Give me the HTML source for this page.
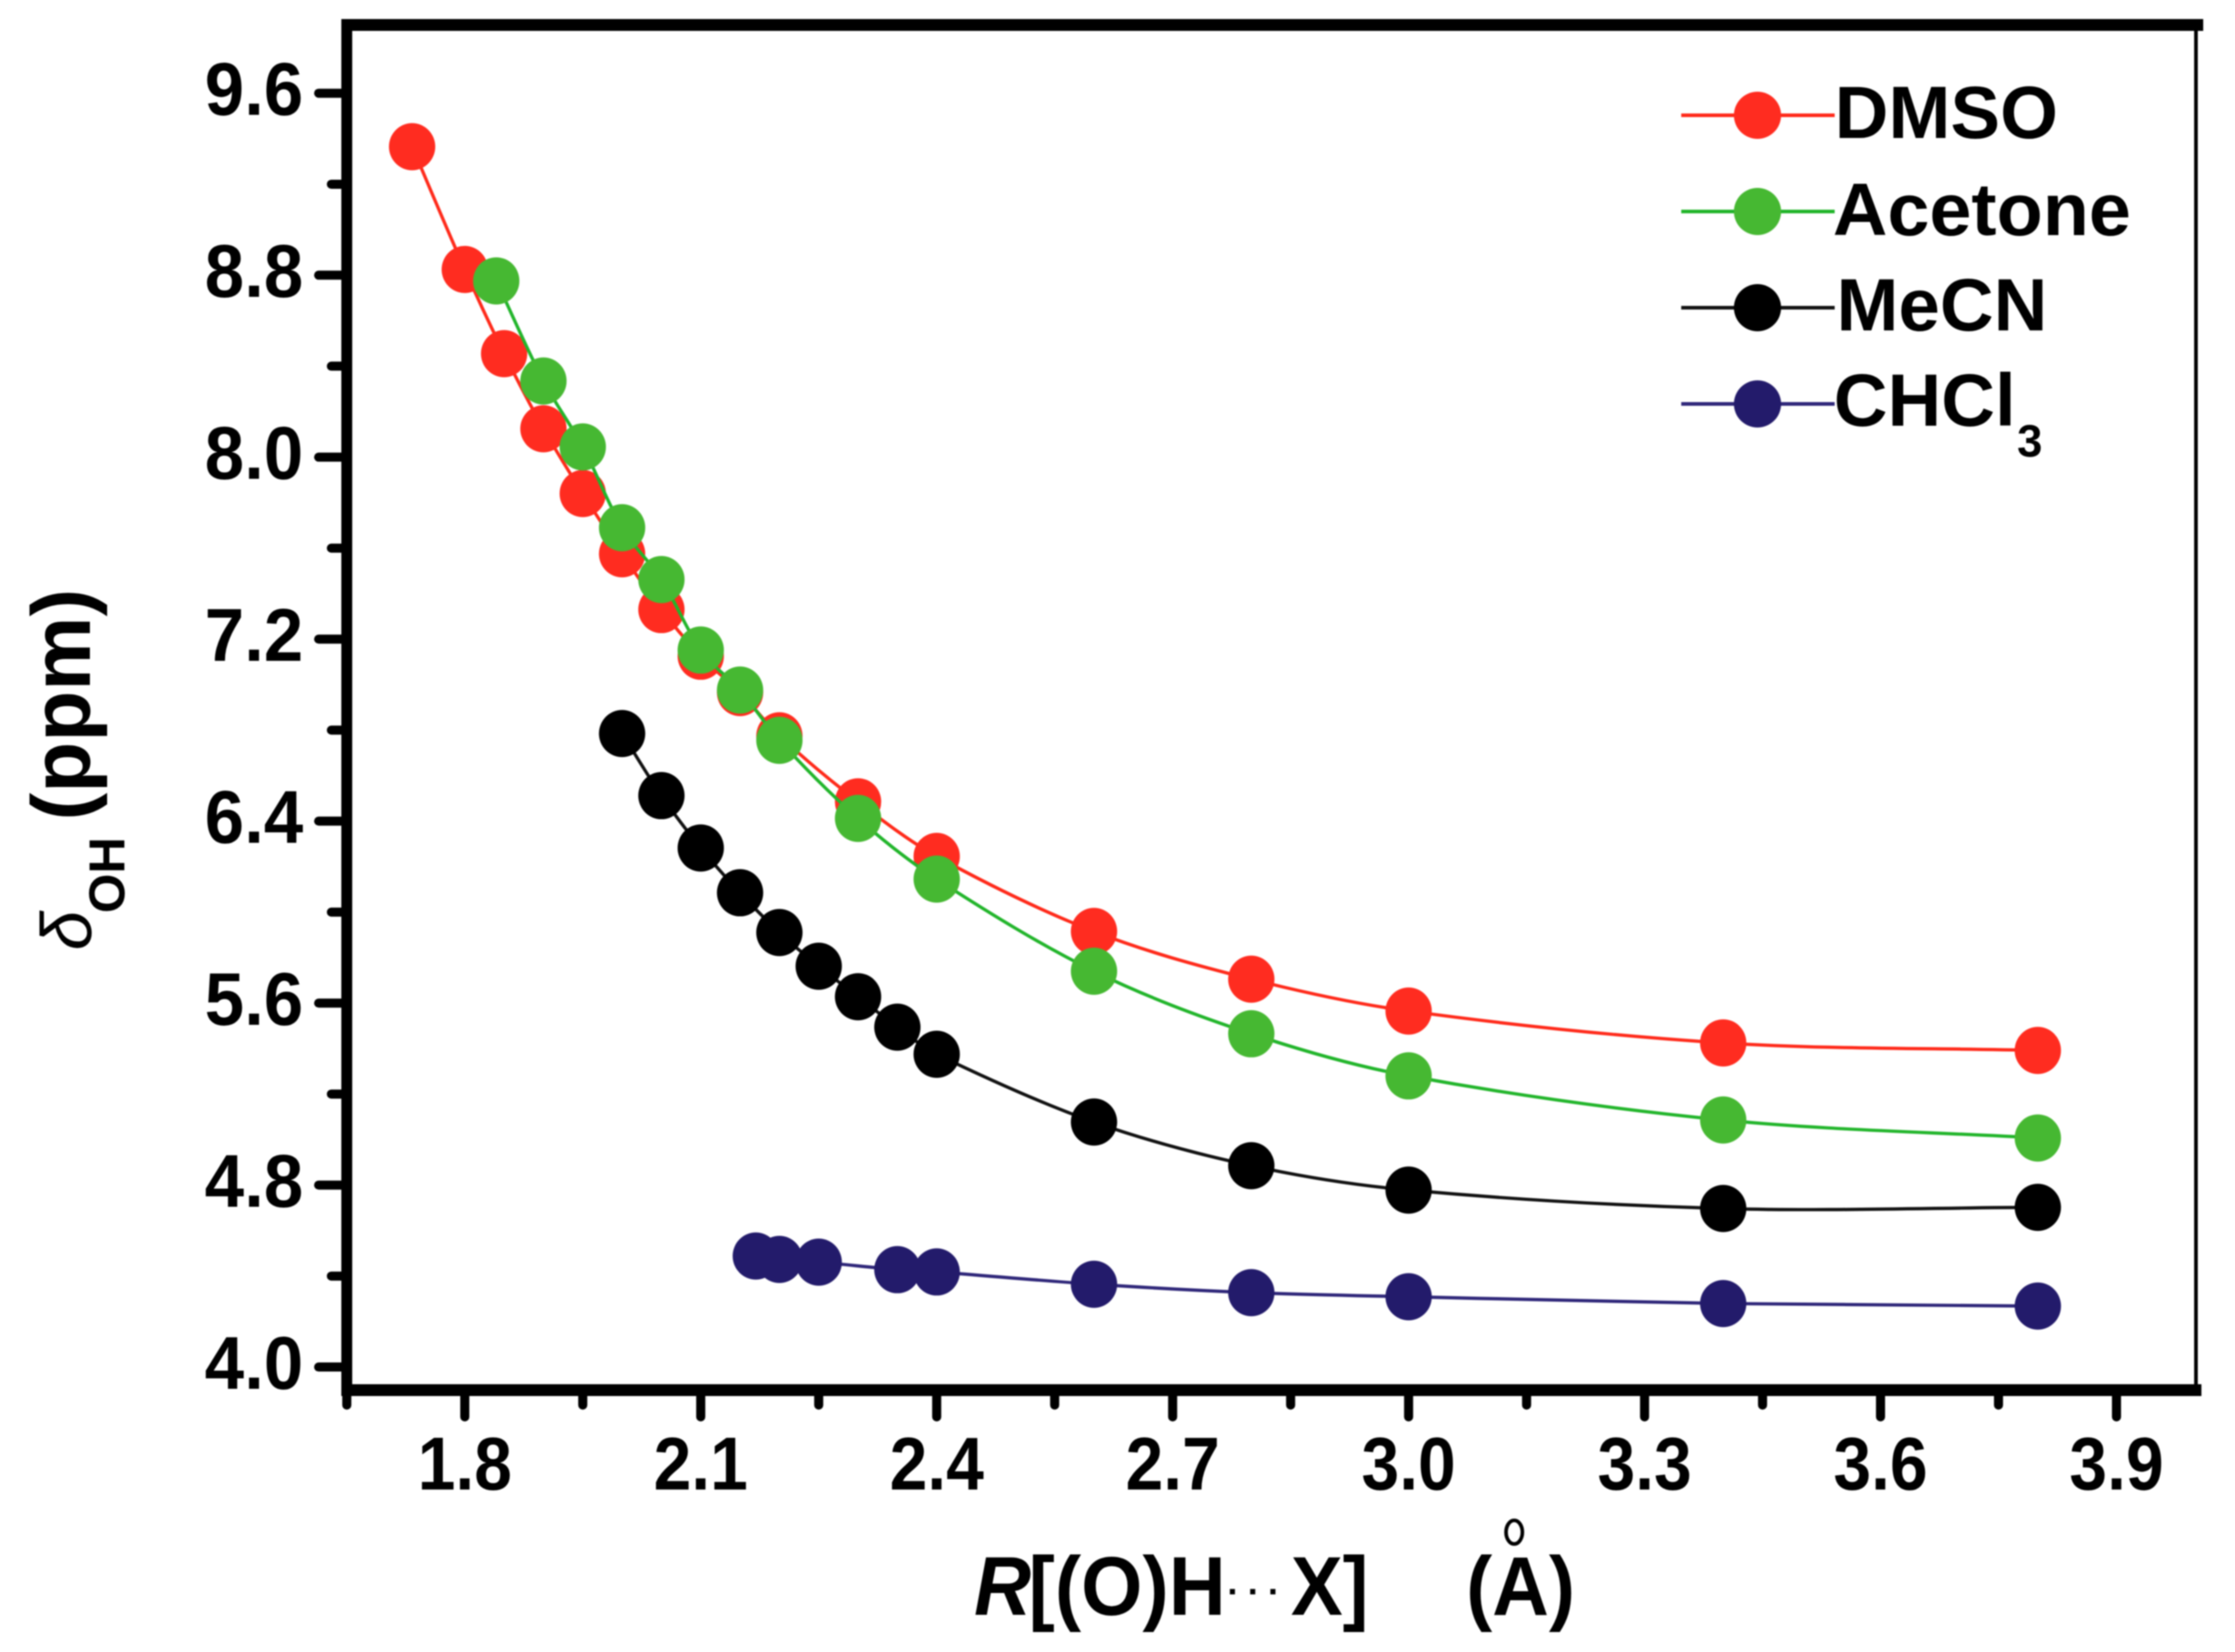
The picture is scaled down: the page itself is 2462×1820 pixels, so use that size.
<!DOCTYPE html>
<html lang="en">
<head>
<meta charset="utf-8">
<title>Chemical shift vs hydrogen-bond distance</title>
<style>
html,body{margin:0;padding:0;background:#fff;}
svg{display:block;filter:blur(0.7px);}
text{font-family:"Liberation Sans",sans-serif;font-weight:bold;fill:#000;}
</style>
</head>
<body>
<svg id="chart" xmlns="http://www.w3.org/2000/svg" width="2462" height="1820" viewBox="0 0 2462 1820">
  <rect width="2462" height="1820" fill="#fff"/>
  <g id="axis-ticks"></g>
  <g id="plot-frame">
    <rect x="376" y="21" width="2051" height="13" fill="#000"/>
    <rect x="376" y="21" width="12" height="1517" fill="#000"/>
    <rect x="376" y="1525" width="2049" height="13" fill="#000"/>
    <rect x="2417" y="21" width="4" height="1517" fill="#000"/>
  </g>
  <g id="series-layer"></g>
  <g id="legend">
    <g>
      <line x1="1852" y1="127" x2="2021" y2="127" stroke="#ff2a1a" stroke-width="4"/>
      <ellipse cx="1936" cy="127" rx="26" ry="26" fill="#ff2c20"/>
      <text x="2021" y="152" font-size="82">DMSO</text>
    </g>
    <g>
      <line x1="1852" y1="233" x2="2021" y2="233" stroke="#22b52b" stroke-width="4"/>
      <ellipse cx="1936" cy="233" rx="26" ry="26" fill="#46b832"/>
      <text transform="translate(2019,259) scale(1.015,1)" font-size="82">Acetone</text>
    </g>
    <g>
      <line x1="1852" y1="339" x2="2021" y2="339" stroke="#111" stroke-width="4"/>
      <ellipse cx="1936" cy="339" rx="26" ry="26" fill="#000"/>
      <text x="2023" y="364" font-size="82">MeCN</text>
    </g>
    <g>
      <line x1="1852" y1="445" x2="2021" y2="445" stroke="#2e2679" stroke-width="4"/>
      <ellipse cx="1936" cy="445" rx="26" ry="26" fill="#231b6b"/>
      <text x="2020" y="469" font-size="82">CHCl</text>
      <text x="2222" y="503" font-size="50">3</text>
    </g>
  </g>
  <g id="x-axis-title" aria-label="R[(O)H···X] (Å)">
    <text transform="translate(1073,1779) scale(.945,1)" font-size="92" font-style="italic">R</text>
    <text transform="translate(1133,1779) scale(.945,1)" font-size="92">[(O)H</text>
    <text x="1352" y="1767" font-size="40" letter-spacing="9">···</text>
    <text transform="translate(1422,1779) scale(.93,1)" font-size="92">X]</text>
    <text transform="translate(1615,1779) scale(.94,1)" font-size="92">(A)</text>
    <ellipse cx="1668" cy="1688" rx="9" ry="13" fill="none" stroke="#000" stroke-width="4"/>
  </g>
  <g id="y-axis-title">
    <text transform="translate(100,1047) rotate(-90)" font-size="78" font-style="italic" style="font-weight:normal">δ</text>
    <text transform="translate(137,1006) rotate(-90)" font-size="56">OH</text>
    <text transform="translate(99,904) rotate(-90)" font-size="92">(ppm)</text>
  </g>
</svg>
<script>
// Axis tick values
const xMajorTicks = [1.8, 2.1, 2.4, 2.7, 3.0, 3.3, 3.6, 3.9];
const xMinorTicks = [1.65, 1.95, 2.25, 2.55, 2.85, 3.15, 3.45, 3.75];
const xTickLabels = ["1.8", "2.1", "2.4", "2.7", "3.0", "3.3", "3.6", "3.9"];
const yMajorTicks = [9.6, 8.8, 8.0, 7.2, 6.4, 5.6, 4.8, 4.0];
const yMinorTicks = [9.2, 8.4, 7.6, 6.8, 6.0, 5.2, 4.4];
const yTickLabels = ["9.6", "8.8", "8.0", "7.2", "6.4", "5.6", "4.8", "4.0"];

// Series: R[(O)H...X] distance and delta OH values
const dmsoX = [1.733, 1.8, 1.85, 1.9, 1.95, 2.0, 2.05, 2.1, 2.15, 2.2, 2.3, 2.4, 2.6, 2.8, 3.0, 3.4, 3.8];
const dmsoY = [9.365, 8.825, 8.455, 8.125, 7.84, 7.575, 7.33, 7.125, 6.965, 6.775, 6.485, 6.245, 5.915, 5.705, 5.565, 5.425, 5.392];
const acetoneX = [1.84, 1.9, 1.95, 2.0, 2.05, 2.1, 2.15, 2.2, 2.3, 2.4, 2.6, 2.8, 3.0, 3.4, 3.8];
const acetoneY = [8.775, 8.335, 8.045, 7.69, 7.462, 7.152, 6.976, 6.755, 6.412, 6.145, 5.74, 5.465, 5.28, 5.086, 5.007];
const mecnX = [2.0, 2.05, 2.1, 2.15, 2.2, 2.25, 2.3, 2.35, 2.4, 2.6, 2.8, 3.0, 3.4, 3.8];
const mecnY = [6.785, 6.512, 6.282, 6.085, 5.91, 5.762, 5.628, 5.494, 5.375, 5.077, 4.885, 4.778, 4.697, 4.702];
const chcl3X = [2.17, 2.2, 2.25, 2.35, 2.4, 2.6, 2.8, 3.0, 3.4, 3.8];
const chcl3Y = [4.488, 4.473, 4.461, 4.428, 4.418, 4.364, 4.327, 4.309, 4.279, 4.268];

const NS = "http://www.w3.org/2000/svg";
function xScale(v) { return 512 + (v - 1.8) * 866.4; }
function yScale(v) { return 102.7 + (9.6 - v) * 250.6; }

function make(tag, attrs, parent) {
  const el = document.createElementNS(NS, tag);
  for (const k in attrs) el.setAttribute(k, attrs[k]);
  parent.appendChild(el);
  return el;
}

const ticksLayer = document.getElementById("axis-ticks");

xMajorTicks.forEach(function (v, i) {
  const t = make("line", {x1: xScale(v), x2: xScale(v), y1: 1530, y2: 1561, stroke: "#000", "stroke-width": 10, "stroke-linecap": "round"}, ticksLayer);
  
  
  const g = make("text", {transform: "translate(" + xScale(v) + ",1641) scale(.9,1)", "text-anchor": "middle", "font-size": 83}, ticksLayer);
  
  
  g.textContent = xTickLabels[i];
});
xMinorTicks.forEach(function (v) {
  const t = make("line", {x1: xScale(v), x2: xScale(v), y1: 1530, y2: 1548, stroke: "#000", "stroke-width": 10, "stroke-linecap": "round"}, ticksLayer);
  
  
});
yMajorTicks.forEach(function (v, i) {
  const t = make("line", {x1: 351, x2: 380, y1: yScale(v), y2: yScale(v), stroke: "#000", "stroke-width": 10, "stroke-linecap": "round"}, ticksLayer);
  
  
  const g = make("text", {transform: "translate(334," + (yScale(v) + 24) + ") scale(.94,1)", "text-anchor": "end", "font-size": 83}, ticksLayer);
  
  
  g.textContent = yTickLabels[i];
});
yMinorTicks.forEach(function (v) {
  const t = make("line", {x1: 365, x2: 380, y1: yScale(v), y2: yScale(v), stroke: "#000", "stroke-width": 10, "stroke-linecap": "round"}, ticksLayer);
  
  
});

function smoothPath(xs, ys) {
  const px = xs.map(xScale), py = ys.map(yScale), n = px.length;
  const slope = px.map(function (_, i) {
    const a = Math.max(i - 1, 0), b = Math.min(i + 1, n - 1);
    return (py[b] - py[a]) / (px[b] - px[a]);
  });
  let d = "M" + px[0].toFixed(1) + " " + py[0].toFixed(1);
  for (let i = 0; i < n - 1; i++) {
    const h = (px[i + 1] - px[i]) / 3;
    d += "C" + (px[i] + h).toFixed(1) + " " + (py[i] + slope[i] * h).toFixed(1) + " " +
      (px[i + 1] - h).toFixed(1) + " " + (py[i + 1] - slope[i + 1] * h).toFixed(1) + " " +
      px[i + 1].toFixed(1) + " " + py[i + 1].toFixed(1);
  }
  return d;
}

const seriesLayer = document.getElementById("series-layer");

function drawSeries(name, xs, ys, lineColor, markerColor) {
  const g = make("g", {}, seriesLayer);
  
  
  const line = make("path", {d: smoothPath(xs, ys), fill: "none", stroke: lineColor, "stroke-width": 3.6}, g);
  
  
  xs.forEach(function (x, i) {
    const c = make("ellipse", {cx: xScale(x), cy: yScale(ys[i]), rx: 25.5, ry: 26, fill: markerColor}, g);
    
    
  });
}

drawSeries("dmso", dmsoX, dmsoY, "#ff2a1a", "#ff2c20");
drawSeries("acetone", acetoneX, acetoneY, "#22b52b", "#46b832");
drawSeries("mecn", mecnX, mecnY, "#111111", "#000000");
drawSeries("chcl3", chcl3X, chcl3Y, "#2e2679", "#231b6b");
</script>
</body>
</html>
